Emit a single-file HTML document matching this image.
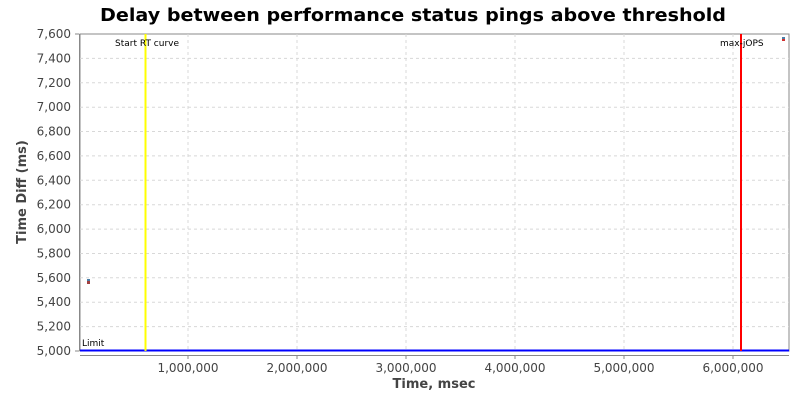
<!DOCTYPE html>
<html><head><style>body{margin:0;background:#fff}svg{display:block}</style></head><body>
<svg width="800" height="400" xmlns="http://www.w3.org/2000/svg" font-family="DejaVu Sans, Liberation Sans, sans-serif">
<rect width="800" height="400" fill="#fff"/>
<text x="413" y="21" font-size="18" font-weight="bold" text-anchor="middle" fill="#000" textLength="626" lengthAdjust="spacingAndGlyphs">Delay between performance status pings above threshold</text>
<rect x="80" y="34" width="709" height="317" fill="#fff" stroke="#888" stroke-width="1"/>
<g stroke="#d8d8d8" stroke-dasharray="3,3" stroke-width="1">
<line x1="80" x2="789" y1="58.4" y2="58.4"/><line x1="80" x2="789" y1="82.8" y2="82.8"/><line x1="80" x2="789" y1="107.2" y2="107.2"/><line x1="80" x2="789" y1="131.5" y2="131.5"/><line x1="80" x2="789" y1="155.9" y2="155.9"/><line x1="80" x2="789" y1="180.3" y2="180.3"/><line x1="80" x2="789" y1="204.7" y2="204.7"/><line x1="80" x2="789" y1="229.1" y2="229.1"/><line x1="80" x2="789" y1="253.5" y2="253.5"/><line x1="80" x2="789" y1="277.8" y2="277.8"/><line x1="80" x2="789" y1="302.2" y2="302.2"/><line x1="80" x2="789" y1="326.6" y2="326.6"/>
<line x1="188" x2="188" y1="34" y2="351"/><line x1="297" x2="297" y1="34" y2="351"/><line x1="406" x2="406" y1="34" y2="351"/><line x1="515" x2="515" y1="34" y2="351"/><line x1="624" x2="624" y1="34" y2="351"/><line x1="733" x2="733" y1="34" y2="351"/>
</g>
<line x1="79.5" y1="34" x2="79.5" y2="351" stroke="#888"/>
<line x1="80" y1="355.5" x2="789" y2="355.5" stroke="#888"/>
<g stroke="#888"><line x1="75" x2="79" y1="34" y2="34"/><line x1="75" x2="79" y1="351" y2="351"/>
<line x1="188" x2="188" y1="355" y2="359"/><line x1="297" x2="297" y1="355" y2="359"/><line x1="406" x2="406" y1="355" y2="359"/><line x1="515" x2="515" y1="355" y2="359"/><line x1="624" x2="624" y1="355" y2="359"/><line x1="733" x2="733" y1="355" y2="359"/></g>
<g font-size="12" fill="#444" text-anchor="end">
<text x="71" y="38">7,600</text><text x="71" y="62.4">7,400</text><text x="71" y="86.8">7,200</text><text x="71" y="111.2">7,000</text><text x="71" y="135.5">6,800</text><text x="71" y="159.9">6,600</text><text x="71" y="184.3">6,400</text><text x="71" y="208.7">6,200</text><text x="71" y="233.1">6,000</text><text x="71" y="257.5">5,800</text><text x="71" y="281.8">5,600</text><text x="71" y="306.2">5,400</text><text x="71" y="330.6">5,200</text><text x="71" y="355">5,000</text>
</g>
<g font-size="12" fill="#444" text-anchor="middle">
<text x="188" y="372">1,000,000</text><text x="297" y="372">2,000,000</text><text x="406" y="372">3,000,000</text><text x="515" y="372">4,000,000</text><text x="624" y="372">5,000,000</text><text x="733" y="372">6,000,000</text>
</g>
<text x="434" y="388" font-size="13" font-weight="bold" fill="#444" text-anchor="middle">Time, msec</text>
<text transform="translate(26,192) rotate(-90)" font-size="13" font-weight="bold" fill="#444" text-anchor="middle">Time Diff (ms)</text>
<line x1="80" x2="789" y1="350.5" y2="350.5" stroke="#0000ff" stroke-width="2"/>
<line x1="145.5" x2="145.5" y1="34" y2="351" stroke="#ffff00" stroke-width="2"/>
<line x1="741" x2="741" y1="34" y2="351" stroke="#ff0000" stroke-width="2"/>
<g font-size="9" fill="#000"><text x="115" y="46">Start RT curve</text><text x="720" y="46">max-jOPS</text><text x="82" y="346">Limit</text></g>
<rect x="87" y="279" width="3" height="2" fill="#4a7fa8"/><rect x="87" y="281" width="3" height="3" fill="#a04040"/>
<rect x="782" y="37" width="3" height="2" fill="#4a7fa8"/><rect x="782" y="39" width="3" height="2" fill="#d03030"/>
</svg>
</body></html>
